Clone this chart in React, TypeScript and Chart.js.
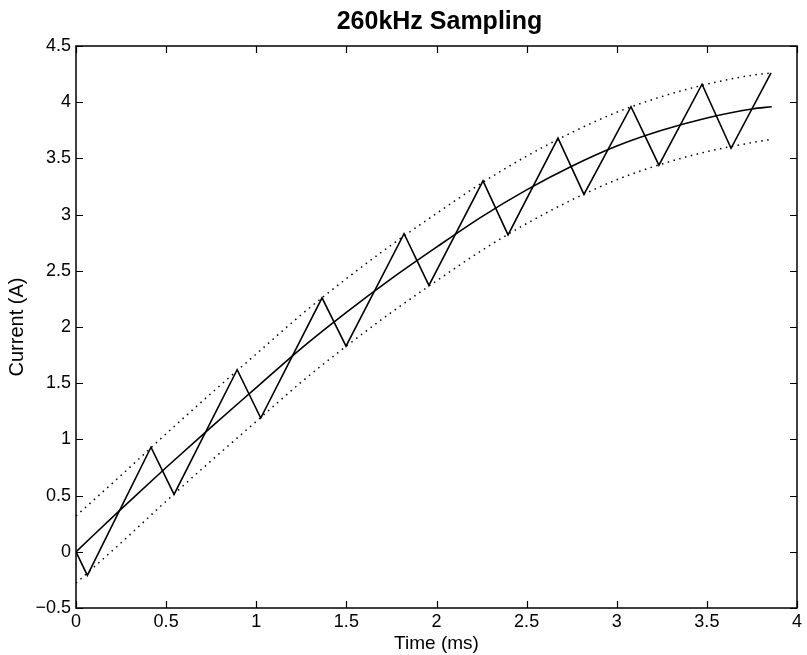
import React, { useEffect, useRef } from "react";
import { Chart, registerables } from "chart.js";

Chart.register(...registerables);

// Sampled (zig-zag) current
const zigTime = [0, 0.063, 0.416, 0.544, 0.894, 1.025, 1.365, 1.498, 1.82, 1.958, 2.258, 2.397, 2.674, 2.818, 3.079, 3.234, 3.473, 3.634, 3.856];
const zigCurrent = [0, -0.21, 0.93, 0.51, 1.62, 1.19, 2.26, 1.83, 2.83, 2.37, 3.3, 2.82, 3.68, 3.18, 3.96, 3.44, 4.16, 3.59, 4.26];

// Reference current and tolerance band
const refTime = [0, 0.25, 0.5, 0.75, 1.0, 1.25, 1.5, 1.75, 2.0, 2.25, 2.5, 2.75, 3.0, 3.25, 3.5, 3.75, 3.86];
const refCurrent = [0, 0.38, 0.75, 1.11, 1.46, 1.81, 2.13, 2.43, 2.71, 2.98, 3.22, 3.43, 3.61, 3.75, 3.86, 3.94, 3.96];
const upperBand = [0.32, 0.68, 1.05, 1.41, 1.76, 2.11, 2.43, 2.73, 3.01, 3.28, 3.52, 3.73, 3.91, 4.05, 4.16, 4.24, 4.26];
const lowerBand = [-0.28, 0.08, 0.45, 0.81, 1.16, 1.51, 1.83, 2.13, 2.41, 2.68, 2.92, 3.13, 3.31, 3.45, 3.56, 3.64, 3.67];

const xTickValues = [0, 0.5, 1, 1.5, 2, 2.5, 3, 3.5, 4];
const xTickLabels = ["0", "0.5", "1", "1.5", "2", "2.5", "3", "3.5", "4"];
const yTickValues = [-0.5, 0, 0.5, 1, 1.5, 2, 2.5, 3, 3.5, 4, 4.5];
const yTickLabels = ["\u22120.5", "0", "0.5", "1", "1.5", "2", "2.5", "3", "3.5", "4", "4.5"];

const titleText = "260kHz Sampling";
const xTitle = "Time (ms)";
const yTitle = "Current (A)";

const FONT = "'Liberation Sans', Arial, sans-serif";

const framePlugin = {
  id: "matlabFrame",
  afterDraw(chart: any) {
    const { ctx, chartArea } = chart;
    const { left, right, top, bottom } = chartArea;
    const xs = chart.scales.x;
    const ys = chart.scales.y;
    ctx.save();
    ctx.strokeStyle = "#000";
    ctx.lineWidth = 1.5;
    ctx.strokeRect(left, top, right - left, bottom - top);
    const tl = 7;
    ctx.beginPath();
    xTickValues.forEach((v) => {
      const px = Math.round(xs.getPixelForValue(v)) + 0.5;
      ctx.moveTo(px, bottom);
      ctx.lineTo(px, bottom - tl);
      ctx.moveTo(px, top);
      ctx.lineTo(px, top + tl);
    });
    yTickValues.forEach((v) => {
      const py = Math.round(ys.getPixelForValue(v)) + 0.5;
      ctx.moveTo(left, py);
      ctx.lineTo(left + tl, py);
      ctx.moveTo(right, py);
      ctx.lineTo(right - tl, py);
    });
    ctx.lineWidth = 1.2;
    ctx.stroke();
    // title
    ctx.fillStyle = "#000";
    ctx.font = `bold 25px ${FONT}`;
    ctx.textAlign = "center";
    ctx.textBaseline = "alphabetic";
    ctx.fillText(titleText, (left + right) / 2 + 3, 28.5);
    ctx.restore();
  },
};

export default function App() {
  const ref = useRef<HTMLCanvasElement | null>(null);
  useEffect(() => {
    if (!ref.current) return;
    const toPts = (xs: number[], ys: number[]) => xs.map((x, i) => ({ x, y: ys[i] }));
    const chart = new Chart(ref.current, {
      type: "line",
      data: {
        datasets: [
          {
            data: toPts(zigTime, zigCurrent),
            borderColor: "#000",
            borderWidth: 1.6,
            tension: 0,
            pointRadius: 0,
          },
          {
            data: toPts(refTime, refCurrent),
            borderColor: "#000",
            borderWidth: 1.6,
            cubicInterpolationMode: "monotone",
            pointRadius: 0,
          },
          {
            data: toPts(refTime, upperBand),
            borderColor: "#000",
            borderWidth: 1.5,
            borderDash: [1.5, 4.5],
            cubicInterpolationMode: "monotone",
            pointRadius: 0,
          },
          {
            data: toPts(refTime, lowerBand),
            borderColor: "#000",
            borderWidth: 1.5,
            borderDash: [1.5, 4.5],
            cubicInterpolationMode: "monotone",
            pointRadius: 0,
          },
        ] as any,
      },
      options: {
        animation: false,
        responsive: false,
        maintainAspectRatio: false,
        layout: { padding: { left: 0, right: 10, top: 46, bottom: 0 } },
        plugins: { legend: { display: false }, tooltip: { enabled: false }, title: { display: false } },
        scales: {
          x: {
            type: "linear",
            min: 0,
            max: 4,
            grid: { display: false, drawTicks: false, tickLength: 0 },
            border: { display: false },
            afterBuildTicks: (s: any) => {
              s.ticks = xTickValues.map((v) => ({ value: v }));
            },
            afterFit: (s: any) => {
              s.height = 47;
            },
            ticks: {
              color: "#000",
              font: { family: FONT, size: 18 },
              padding: 3,
              maxRotation: 0,
              autoSkip: false,
              callback: (v: any) => {
                const i = xTickValues.indexOf(Number(v));
                return i >= 0 ? xTickLabels[i] : "";
              },
            },
            title: {
              display: true,
              text: xTitle,
              color: "#000",
              font: { family: FONT, size: 19 },
              padding: { top: 0, bottom: 0 },
            },
          },
          y: {
            type: "linear",
            min: -0.5,
            max: 4.5,
            grid: { display: false, drawTicks: false, tickLength: 0 },
            border: { display: false },
            afterBuildTicks: (s: any) => {
              s.ticks = yTickValues.map((v) => ({ value: v }));
            },
            afterFit: (s: any) => {
              s.width = 76;
            },
            ticks: {
              color: "#000",
              font: { family: FONT, size: 18 },
              padding: 5,
              autoSkip: false,
              callback: (v: any) => {
                const i = yTickValues.indexOf(Number(v));
                return i >= 0 ? yTickLabels[i] : "";
              },
            },
            title: {
              display: true,
              text: yTitle,
              color: "#000",
              font: { family: FONT, size: 20 },
              padding: { top: 5, bottom: 0 },
            },
          },
        },
      },
      plugins: [framePlugin],
    });
    return () => chart.destroy();
  }, []);
  return (
    <div style={{ position: "fixed", left: 0, top: 0, width: 807, height: 655, background: "#fff" }}>
      <canvas ref={ref} width={807} height={655} style={{ width: 807, height: 655 }} />
    </div>
  );
}
